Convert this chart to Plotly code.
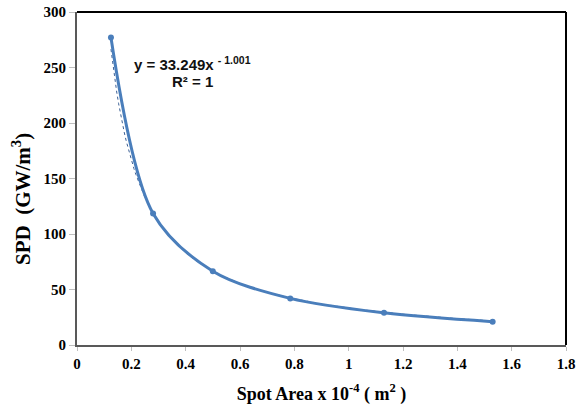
import numpy as np
import plotly.graph_objects as go

# Data
spot_area = [0.125, 0.28, 0.50, 0.785, 1.13, 1.53]
spd = [277, 118.5, 66.5, 42, 29, 21]

# Power-law trendline coefficients as printed on the chart
trend_a = 33.249
trend_b = -1.001

x_ticks = [0, 0.2, 0.4, 0.6, 0.8, 1.0, 1.2, 1.4, 1.6, 1.8]
x_tick_text = ["0", "0.2", "0.4", "0.6", "0.8", "1", "1.2", "1.4", "1.6", "1.8"]
y_ticks = [0, 50, 100, 150, 200, 250, 300]

blue = "#4A7EBB"
serif = "Liberation Serif, Times New Roman, serif"
sans = "Liberation Sans, Arial, sans-serif"

plot_l, plot_r, plot_t, plot_b = 77, 566, 12, 345

xt = np.linspace(min(spot_area), max(spot_area), 200)
yt = trend_a * xt ** trend_b

fig = go.Figure()
fig.add_trace(go.Scatter(x=xt, y=yt, mode="lines",
                         line=dict(color="#3A5F95", width=1, dash="dot"),
                         hoverinfo="skip", showlegend=False))
fig.add_trace(go.Scatter(x=spot_area, y=spd, mode="lines+markers",
                         line=dict(color=blue, width=3, shape="spline", smoothing=0.9),
                         marker=dict(color=blue, size=6),
                         showlegend=False))

fig.add_annotation(x=0.425, y=254, xref="x", yref="y",
                   text="<b>y = 33.249x <sup>- 1.001</sup></b>",
                   showarrow=False, font=dict(family=sans, size=15, color="#111"))
fig.add_annotation(x=0.425, y=237.5, xref="x", yref="y",
                   text="<b>R² = 1</b>",
                   showarrow=False, font=dict(family=sans, size=15, color="#111"))

# y-axis title placed like the reference (slightly below the axis centre)
fig.add_annotation(x=(21 - plot_l) / (plot_r - plot_l),
                   y=(plot_b - 199) / (plot_b - plot_t),
                   xref="paper", yref="paper", xanchor="center", yanchor="middle",
                   text="<b>SPD  (GW/m<sup>3</sup>)</b>",
                   showarrow=False, textangle=-90,
                   font=dict(family=serif, size=21, color="black"))

# top and right frame lines (black)
fig.add_shape(type="line", xref="paper", yref="paper", x0=0, x1=1, y0=1, y1=1,
              line=dict(color="black", width=2))
fig.add_shape(type="line", xref="paper", yref="paper", x0=1, x1=1, y0=0, y1=1,
              line=dict(color="black", width=2))

fig.update_layout(
    width=583, height=407,
    margin=dict(l=plot_l, r=583 - plot_r, t=plot_t, b=407 - plot_b, autoexpand=False),
    plot_bgcolor="white", paper_bgcolor="white",
    xaxis=dict(range=[0, 1.8], tickvals=x_ticks, ticktext=x_tick_text,
               showgrid=False, zeroline=False, showline=True, automargin=False,
               linecolor="#595959", linewidth=2,
               ticks="outside", ticklen=4, tickcolor="#BFBFBF",
               tickfont=dict(family=serif, size=15, color="black", weight="bold"),
               title=dict(text="<b>Spot Area x 10<sup>-4</sup> ( m<sup>2</sup> )</b>",
                          font=dict(family=serif, size=18, color="black"),
                          standoff=16)),
    yaxis=dict(range=[0, 300], tickvals=y_ticks,
               showgrid=False, zeroline=False, showline=True, automargin=False,
               linecolor="#595959", linewidth=2,
               ticks="outside", ticklen=6, tickcolor="#BFBFBF",
               tickfont=dict(family=serif, size=15, color="black", weight="bold")),
)

fig.write_html("out.html")
